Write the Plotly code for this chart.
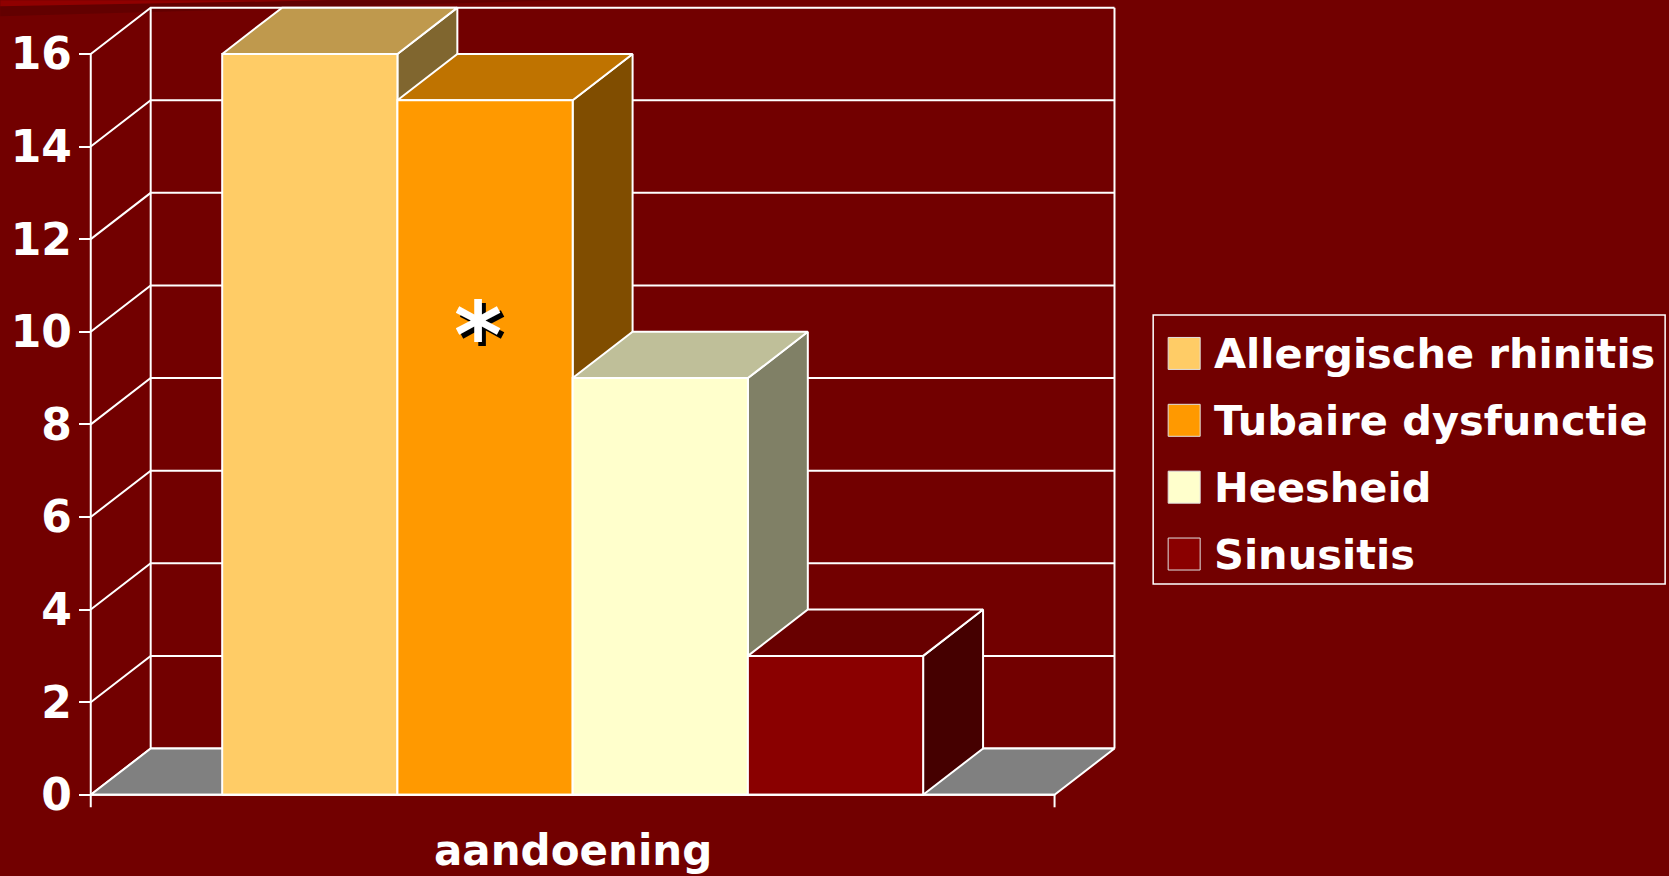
import plotly.graph_objects as go

# ---------------- data ----------------
categories = ["Allergische rhinitis", "Tubaire dysfunctie", "Heesheid", "Sinusitis"]
values = [16, 15, 9, 3]
front_colors = ["#FFCC66", "#FF9900", "#FFFFCC", "#8A0000"]
top_colors = ["#BF994D", "#BF7300", "#BFBF99", "#680000"]
side_colors = ["#80662F", "#804D00", "#808066", "#450000"]
y_ticks = [0, 2, 4, 6, 8, 10, 12, 14, 16]
y_tick_labels = ["0", "2", "4", "6", "8", "10", "12", "14", "16"]
x_title = "aandoening"
marked_category = "Tubaire dysfunctie"
marker_text = "*"

# ---------------- geometry / style ----------------
BG = "#720000"
FLOOR = "#808080"
LINE = "white"
FONT = "DejaVu Sans"
W, H = 1669, 876
BAR_W = 1.0          # bar width in category units
GAP = 0.75           # floor margin on each side of the bar group
DX, DY = 0.342, 1.0  # depth offset (x in category units, y in value units)
YMAX = max(y_ticks)

n = len(categories)
X0 = -BAR_W / 2 - GAP
X1 = (n - 1) + BAR_W / 2 + GAP

x_range = [X0 - 0.05, X1 + DX + 0.06]
y_range = [-0.35, YMAX + DY + 0.1]

# pixel placement of the plot area
PX_PER_X = 175.25
PX_PER_Y = 46.33
X0_PX = 90.5
Y0_PX = 795.0
left_px = X0_PX - (X0 - x_range[0]) * PX_PER_X
right_px = left_px + (x_range[1] - x_range[0]) * PX_PER_X
bottom_px = Y0_PX + (0 - y_range[0]) * PX_PER_Y
top_px = bottom_px - (y_range[1] - y_range[0]) * PX_PER_Y


def px2paper(px, py):
    return ((px - left_px) / (right_px - left_px),
            (bottom_px - py) / (bottom_px - top_px))


fig = go.Figure()


def poly(xs, ys, fill, width=2):
    fig.add_trace(go.Scatter(
        x=list(xs) + [xs[0]], y=list(ys) + [ys[0]],
        mode="lines", fill="toself", fillcolor=fill,
        line=dict(color=LINE, width=width),
        hoverinfo="skip", showlegend=False))


def seg(xs, ys, width=2):
    fig.add_trace(go.Scatter(
        x=xs, y=ys, mode="lines", line=dict(color=LINE, width=width),
        hoverinfo="skip", showlegend=False))


# back wall & left wall gridlines
for v in y_ticks:
    seg([X0, X0 + DX, X1 + DX], [v, v + DY, v + DY])
seg([X0 + DX, X0 + DX], [DY, YMAX + DY])
seg([X1 + DX, X1 + DX], [DY, YMAX + DY])
# front value axis line (extends below 0 as a tick)
seg([X0, X0], [y_range[0] + 0.08, YMAX])
seg([X1, X1], [y_range[0] + 0.08, 0])

# floor
poly([X0, X1, X1 + DX, X0 + DX], [0, 0, DY, DY], FLOOR)

# bars (painter's order, left to right)
for i, v in enumerate(values):
    l, r = i - BAR_W / 2, i + BAR_W / 2
    poly([r, r + DX, r + DX, r], [0, DY, v + DY, v], side_colors[i])
    poly([l, r, r + DX, l + DX], [v, v, v + DY, v + DY], top_colors[i])
    poly([l, r, r, l], [0, 0, v, v], front_colors[i])

# front floor edge
seg([X0, X1], [0, 0])

annotations = []
shapes = []

# marker on a bar (shadow + white)
mi = categories.index(marked_category)
for col, xs, ys in [("black", 4, -4), ("white", 0, 0)]:
    annotations.append(dict(
        x=mi - 0.04, y=9.9, xref="x", yref="y", text=marker_text,
        showarrow=False, xshift=xs, yshift=ys,
        font=dict(family=FONT, size=92, color=col, weight="bold")))

# axis title
tx, ty = px2paper(0, 851)
annotations.append(dict(
    x=(n - 1) / 2, y=ty, xref="x", yref="paper", text=x_title, showarrow=False,
    yanchor="middle",
    font=dict(family=FONT, size=42, color="white", weight="bold")))

# legend (drawn manually to match large swatches)
bx0, by0 = px2paper(1153, 584)
bx1, by1 = px2paper(1665, 315)
shapes.append(dict(type="rect", xref="paper", yref="paper", x0=bx0, y0=by0,
                   x1=bx1, y1=by1, line=dict(color=LINE, width=1.5)))
for k, name in enumerate(categories):
    cy = 353.4 + 66.9 * k
    sx0, sy0 = px2paper(1168, cy + 16)
    sx1, sy1 = px2paper(1200, cy - 16)
    shapes.append(dict(type="rect", xref="paper", yref="paper", x0=sx0, y0=sy0,
                       x1=sx1, y1=sy1, fillcolor=front_colors[k],
                       line=dict(color="#E0E0E0", width=1)))
    tx, ty = px2paper(1212, cy)
    annotations.append(dict(
        x=tx, y=ty, xref="paper", yref="paper", text=name, showarrow=False,
        xanchor="left", yanchor="middle",
        font=dict(family=FONT, size=41.5, color="white", weight="bold")))

# slide decoration at the top-left
d1 = [px2paper(0, 0), px2paper(560, 0), px2paper(0, 16)]
d2 = [px2paper(0, 0), px2paper(330, 0), px2paper(0, 6)]
for pts, col in [(d1, "#620000"), (d2, "#900000")]:
    path = "M {} {} L {} {} L {} {} Z".format(pts[0][0], pts[0][1], pts[1][0],
                                              pts[1][1], pts[2][0], pts[2][1])
    shapes.append(dict(type="path", xref="paper", yref="paper", path=path,
                       fillcolor=col, line=dict(width=0), layer="below"))

axis_pos = px2paper(X0_PX, 0)[0]

fig.update_layout(
    width=W, height=H,
    margin=dict(l=left_px, r=W - right_px, t=top_px, b=H - bottom_px,
                autoexpand=False),
    paper_bgcolor=BG, plot_bgcolor=BG,
    showlegend=False,
    annotations=annotations, shapes=shapes,
    xaxis=dict(range=x_range, showgrid=False, zeroline=False,
               showticklabels=False, ticks="", fixedrange=True,
               automargin=False),
    yaxis=dict(range=y_range, showgrid=False, zeroline=False,
               anchor="free", position=axis_pos,
               tickvals=y_ticks, ticktext=y_tick_labels,
               ticks="outside", ticklen=12, tickwidth=2, tickcolor=LINE,
               ticklabelstandoff=-2,
               automargin=False,
               tickfont=dict(family=FONT, size=44, color="white", weight="bold"),
               fixedrange=True),
)

fig.write_html(
    "out.html",
    config={"displayModeBar": False},
    post_script="document.body.style.margin='0';"
                "document.body.style.background='" + BG + "';",
)
